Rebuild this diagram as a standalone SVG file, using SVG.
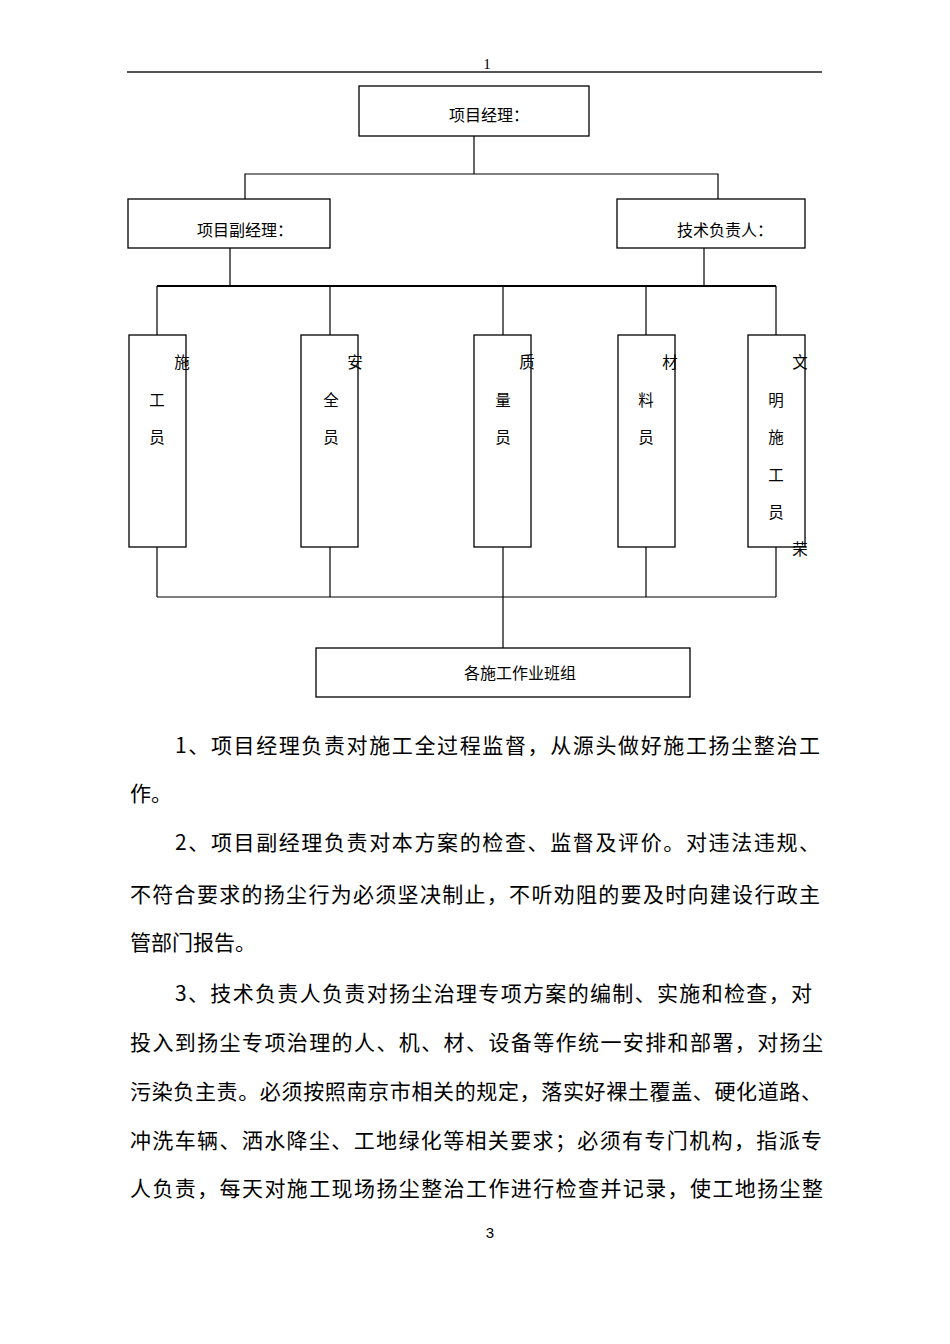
<svg xmlns="http://www.w3.org/2000/svg" width="950" height="1344" viewBox="0 0 950 1344">
<style>
.box{fill:#fff;stroke:#000;stroke-width:1.3}
.ln{stroke:#000;stroke-width:1.2;fill:none}
.lbl{font-family:"Noto Sans CJK SC","Noto Sans",sans-serif;font-size:16px;fill:#000}
.v{font-family:"Noto Sans CJK SC","Noto Sans",sans-serif;font-size:15.5px;fill:#000;text-anchor:middle}
.body{font-family:"Noto Sans CJK SC","Noto Sans",sans-serif;font-size:21px;fill:#000}
</style>
<rect width="950" height="1344" fill="#fff"/>
<text x="487" y="69" font-family="Liberation Serif,serif" font-size="15" text-anchor="middle">1</text>
<line x1="127" y1="72" x2="822" y2="72" stroke="#555" stroke-width="2"/>
<g id="connectors">
<path class="ln" d="M474 136V174M245 199V174H718V199"/>
<path class="ln" d="M230 248V286M704 248V286"/>
<path d="M157 286H776" stroke="#000" stroke-width="2.2"/>
<path class="ln" d="M157 286V335M330 286V335M503 286V335M646 286V335M776 286V335"/>
<path class="ln" d="M157 547V597M330 547V597M503 547V648M646 547V597M776 547V597M157 597H776"/>
</g>
<g id="pm"><rect class="box" x="359" y="86" width="230" height="50"/><text class="lbl" x="449" y="121">项目经理：</text></g>
<g id="dpm"><rect class="box" x="128" y="199" width="202" height="49"/><text class="lbl" x="197" y="236">项目副经理：</text></g>
<g id="tech"><rect class="box" x="617" y="199" width="188" height="49"/><text class="lbl" x="677" y="236">技术负责人：</text></g>
<g id="sg"><rect class="box" x="129" y="335" width="57" height="212"/><text class="v" x="182" y="368">施</text><text class="v" x="157" y="406">工</text><text class="v" x="157" y="443">员</text></g>
<g id="aq"><rect class="box" x="301" y="335" width="57" height="212"/><text class="v" x="355" y="368">安</text><text class="v" x="331" y="406">全</text><text class="v" x="331" y="443">员</text></g>
<g id="zl"><rect class="box" x="474" y="335" width="57" height="212"/><text class="v" x="527" y="368">质</text><text class="v" x="503" y="406">量</text><text class="v" x="503" y="443">员</text></g>
<g id="cl"><rect class="box" x="618" y="335" width="57" height="212"/><text class="v" x="670" y="368">材</text><text class="v" x="646" y="406">料</text><text class="v" x="646" y="443">员</text></g>
<g id="wm"><rect class="box" x="748" y="335" width="57" height="212"/><text class="v" x="800" y="368">文</text><text class="v" x="776" y="406">明</text><text class="v" x="776" y="443">施</text><text class="v" x="776" y="481">工</text><text class="v" x="776" y="518">员</text><text class="v" x="800" y="555">荣</text></g>
<g id="teams"><rect class="box" x="316" y="648" width="374" height="49"/><text class="lbl" x="520" y="679" text-anchor="middle">各施工作业班组</text></g>
<g id="text">
<text class="body" x="175" y="753" textLength="645" lengthAdjust="spacing">1、项目经理负责对施工全过程监督，从源头做好施工扬尘整治工</text>
<text class="body" x="130" y="801">作。</text>
<text class="body" x="175" y="850" textLength="645" lengthAdjust="spacing">2、项目副经理负责对本方案的检查、监督及评价。对违法违规、</text>
<text class="body" x="130" y="902" textLength="690" lengthAdjust="spacing">不符合要求的扬尘行为必须坚决制止，不听劝阻的要及时向建设行政主</text>
<text class="body" x="130" y="950">管部门报告。</text>
<text class="body" x="175" y="1001" textLength="637" lengthAdjust="spacing">3、技术负责人负责对扬尘治理专项方案的编制、实施和检查，对</text>
<text class="body" x="130" y="1050" textLength="693" lengthAdjust="spacing">投入到扬尘专项治理的人、机、材、设备等作统一安排和部署，对扬尘</text>
<text class="body" x="130" y="1099" textLength="692" lengthAdjust="spacing">污染负主责。必须按照南京市相关的规定，落实好裸土覆盖、硬化道路、</text>
<text class="body" x="130" y="1148" textLength="692" lengthAdjust="spacing">冲洗车辆、洒水降尘、工地绿化等相关要求；必须有专门机构，指派专</text>
<text class="body" x="130" y="1196" textLength="693" lengthAdjust="spacing">人负责，每天对施工现场扬尘整治工作进行检查并记录，使工地扬尘整</text>
</g>
<text x="490" y="1238" font-family="Liberation Sans,sans-serif" font-size="15" text-anchor="middle">3</text>
</svg>
